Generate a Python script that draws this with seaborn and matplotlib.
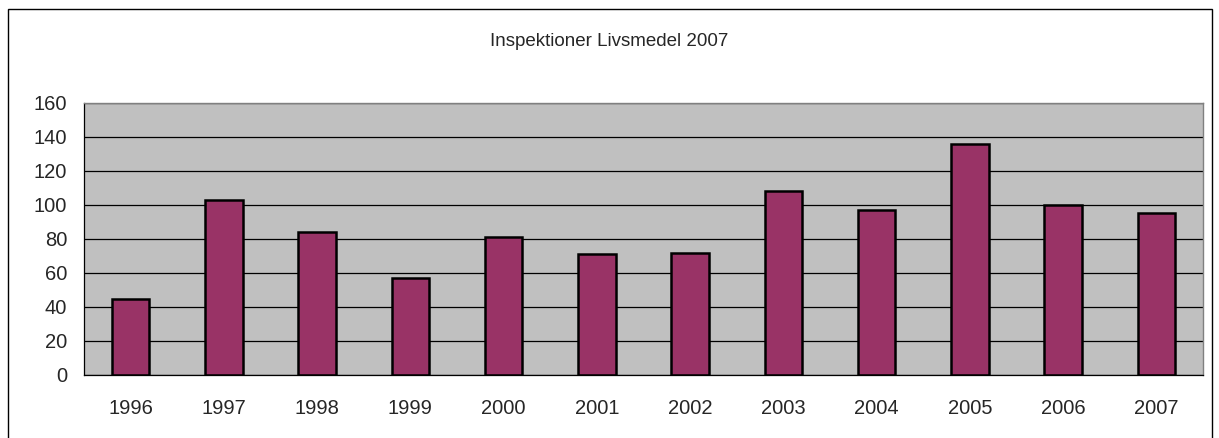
import matplotlib.pyplot as plt
import matplotlib.patches as mpatches
import numpy as np
import pandas as pd
import seaborn as sns

# data
years = ['1996', '1997', '1998', '1999', '2000', '2001',
         '2002', '2003', '2004', '2005', '2006', '2007']
inspections = [45, 103, 84, 57, 81, 71, 72, 108, 97, 136, 100, 95]
y_ticks = [0, 20, 40, 60, 80, 100, 120, 140, 160]
title = 'Inspektioner Livsmedel 2007'

df = pd.DataFrame({'year': years, 'count': inspections})

sns.set_style('white')
plt.rcParams['font.family'] = ['Liberation Sans', 'DejaVu Sans']

W, H = 1219, 438
fig = plt.figure(figsize=(W / 100, H / 100), dpi=100)
ax = fig.add_axes([84 / W, 1 - 375 / H, (1203 - 84) / W, (375 - 103) / H])
ax.set_facecolor('#C0C0C0')
ax.set_axisbelow(True)

sns.barplot(data=df, x='year', y='count', color='#993366', width=0.4,
            saturation=1, edgecolor='black', linewidth=1.8, ax=ax)

ax.set_ylim(0, 160)
ax.set_xlim(-0.5, len(years) - 0.5)
ax.set_yticks(y_ticks)
ax.yaxis.grid(True, color='black', linewidth=0.9)
ax.xaxis.grid(False)

# category labels centred, ticks at category boundaries
ax.tick_params(axis='x', which='major', length=0, pad=17, labelsize=14.5)
ax.set_xticks(np.arange(-0.5, len(years), 1), minor=True)
ax.tick_params(axis='x', which='minor', length=6, width=0.8, color='black')
ax.tick_params(axis='y', length=7, width=0.8, color='black', pad=5, labelsize=14.5)

ax.set_xlabel('')
ax.set_ylabel('')

for side in ['top', 'right']:
    ax.spines[side].set_color('#808080')
    ax.spines[side].set_linewidth(1)
for side in ['left', 'bottom']:
    ax.spines[side].set_color('black')
    ax.spines[side].set_linewidth(0.9)

fig.text(0.5, 1 - 42 / H, title, ha='center', va='center', fontsize=13.5)

# outer chart border
border = mpatches.Rectangle((8 / W, -0.05), (1212 - 8) / W, 1.05 - 9 / H,
                            transform=fig.transFigure, fill=False,
                            edgecolor='black', linewidth=1)
fig.patches.append(border)

fig.savefig('out.png', dpi=100)
